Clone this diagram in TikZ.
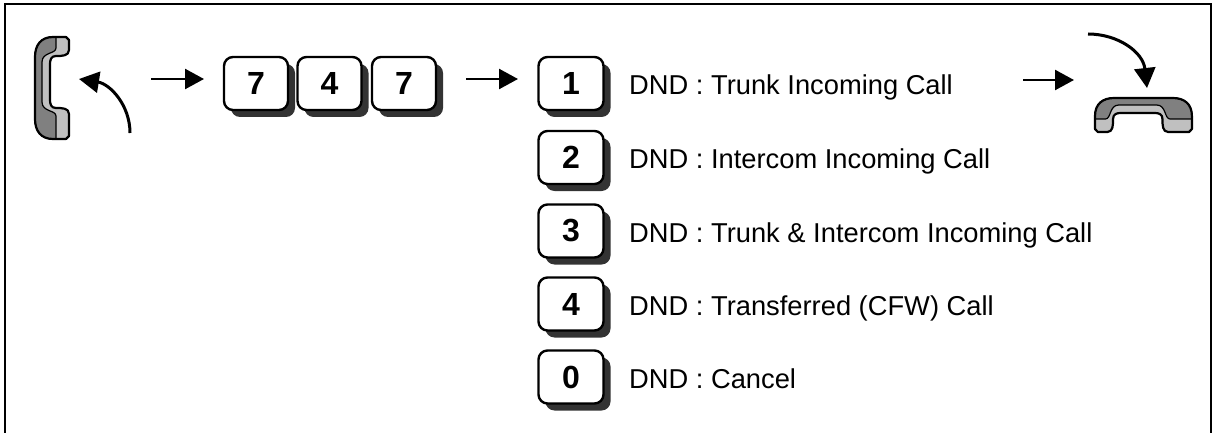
\documentclass[tikz,border=0pt]{standalone}
\usepackage{fontspec}
\setmainfont{Liberation Sans}
\usetikzlibrary{arrows.meta,shadows}
\definecolor{hsdark}{HTML}{808080}
\definecolor{hslight}{HTML}{C0C0C0}
\definecolor{keyshadow}{HTML}{333333}
\tikzset{
 keybox/.style={draw, line width=2.4pt, fill=white, rounded corners=9pt, minimum width=64pt, minimum height=53pt, inner sep=0pt, font=\fontsize{32}{34}\selectfont\bfseries, drop shadow={shadow xshift=7pt, shadow yshift=-7pt, fill=keyshadow, opacity=1}},
 optkey/.style={keybox, minimum width=65pt},
 desc/.style={anchor=base west, inner sep=0pt, font=\fontsize{27.3}{30}\selectfont},
 flow/.style={line width=2.5pt, -{Triangle[length=19pt,width=20pt]}},
 bendarrow/.style={line width=3pt, -{Triangle[length=20pt,width=21pt]}},
 framestyle/.style={line width=2pt},
 hsouter/.style={insert path={(18,0) -- (31,0) -- (34,3) -- (34,13) .. controls (34,19) and (27,19) .. (21,19) .. controls (16,19) and (15,23) .. (15,27) -- (15,63) .. controls (15,67) and (16,71) .. (21,71) .. controls (27,71) and (34,71) .. (34,77) -- (34,99) -- (31,102) -- (18,102) .. controls (6,102) and (0,94) .. (0,82) -- (0,20) .. controls (0,8) and (6,0) .. (18,0) -- cycle}},
 hsinner/.style={insert path={(21,0) -- (21,11) .. controls (21,17) and (7,15) .. (7,25) -- (7,65) .. controls (7,75) and (21,73) .. (21,79) -- (21,102) -- (18,102) .. controls (6,102) and (0,94) .. (0,82) -- (0,20) .. controls (0,8) and (6,0) .. (18,0) -- cycle}},
 hslightfill/.style={fill=hslight},
 hsdarkfill/.style={fill=hsdark, draw, line width=1.2pt},
 hsline/.style={draw, line width=2.2pt, line join=round},
}
\newcommand\drawhandset{%
  \path[hslightfill, hsouter];
  \path[hsdarkfill, hsinner];
  \path[hsline, hsouter];
}
\begin{document}
\begin{tikzpicture}[x=1pt, y=-1pt]
\useasboundingbox (0,0) rectangle (1212,433);
% frame (open at the bottom)
\coordinate (fbl) at (4.5,433);
\coordinate (ftl) at (4.5,4.5);
\coordinate (ftr) at (1210.5,4.5);
\coordinate (fbr) at (1210.5,433);
\draw[framestyle] (fbl) -- (ftl) -- (ftr) -- (fbr);
% left handset (off hook)
\begin{scope}[shift={(35,37)}]
  \drawhandset
\end{scope}
% right handset (on hook)
\begin{scope}[shift={(1095,98)}, x={(0pt,-1pt)}, y={(0.95pt,0pt)}]
  \drawhandset
\end{scope}
% dial keys
\node[keybox] (k7a) at (256,83.5) {7};
\node[keybox] (k4)  at (329.5,83.5) {4};
\node[keybox] (k7b) at (404,83.5) {7};
% option keys
\node[optkey] (o1) at (571,83.5) {1};
\node[optkey] (o2) at (571,157.5) {2};
\node[optkey] (o3) at (571,231) {3};
\node[optkey] (o4) at (571,304) {4};
\node[optkey] (o0) at (571,377) {0};
% descriptions
\node[desc] (t1) at (629,94.5) {DND : Trunk Incoming Call};
\node[desc] (t2) at (629,168.5) {DND : Intercom Incoming Call};
\node[desc] (t3) at (629,242) {DND : Trunk \& Intercom Incoming Call};
\node[desc] (t4) at (629,315) {DND : Transferred (CFW) Call};
\node[desc] (t0) at (629,388) {DND : Cancel};
% arrows
\coordinate (c1s) at (130,133);
\coordinate (c1e) at (79,79);
\draw[bendarrow] (c1s) .. controls (130,105) and (110,84) .. (c1e);
\coordinate (a1s) at (151,79);
\coordinate (a1e) at (204,79);
\draw[flow] (a1s) -- (a1e);
\coordinate (a2s) at (466,79);
\coordinate (a2e) at (518,79);
\draw[flow] (a2s) -- (a2e);
\coordinate (a3s) at (1023,80);
\coordinate (a3e) at (1074,80);
\draw[flow] (a3s) -- (a3e);
\coordinate (c2s) at (1088,34);
\coordinate (c2e) at (1147,88);
\draw[bendarrow] (c2s) .. controls (1118,34) and (1143,52) .. (c2e);
\end{tikzpicture}
\end{document}
